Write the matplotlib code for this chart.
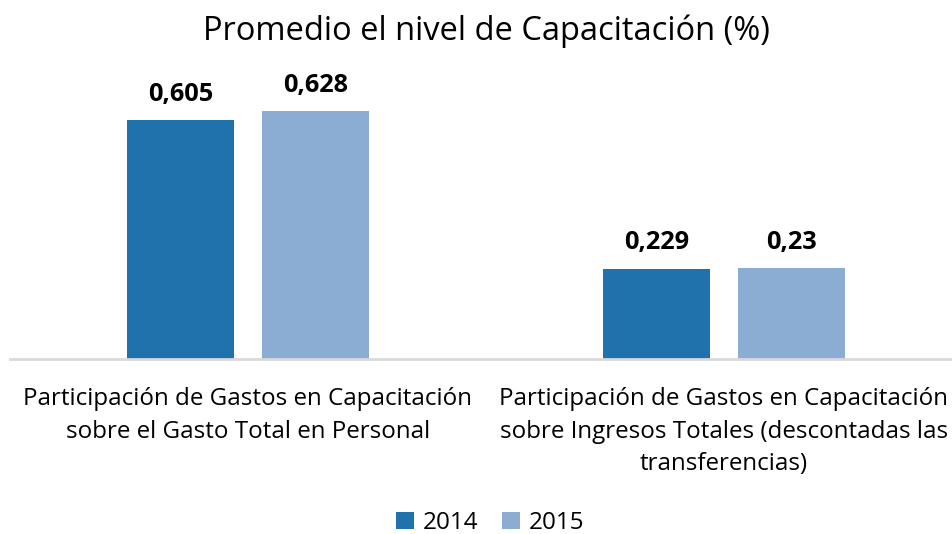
import numpy as np
import matplotlib.pyplot as plt

plt.rcParams['font.family'] = ['Open Sans', 'DejaVu Sans']

categories = ["Participación de Gastos en Capacitación\nsobre el Gasto Total en Personal",
              "Participación de Gastos en Capacitación\nsobre Ingresos Totales (descontadas las\ntransferencias)"]
years = ["2014", "2015"]
values_2014 = [0.605, 0.229]
values_2015 = [0.628, 0.23]
colors = ["#1F72AB", "#8BADD4"]

W, H = 953, 534
fig = plt.figure(figsize=(W / 100, H / 100), dpi=100)
ax = fig.add_axes([10 / W, 1 - 359 / H, 952 / W, 276.5 / H])

x = np.arange(len(categories))
bw = 0.223
off = 0.1418
for vals, dx, c, lab in [(values_2014, -off, colors[0], years[0]),
                         (values_2015, off, colors[1], years[1])]:
    bars = ax.bar(x + dx, vals, width=bw, color=c, label=lab, zorder=2)
    for b, v in zip(bars, vals):
        txt = f"{v:g}".replace(".", ",")
        ax.annotate(txt, (b.get_x() + b.get_width() / 2, v), xytext=(0, 9.5),
                    textcoords="offset points", ha="center", va="bottom",
                    fontsize=18.3, fontweight="bold")

ax.set_xlim(-0.5, 1.5)
ax.set_ylim(0, 0.7)
for s in ["top", "right", "left"]:
    ax.spines[s].set_visible(False)
ax.spines["bottom"].set_color("#D9D9D9")
ax.spines["bottom"].set_linewidth(2)
ax.set_yticks([])
ax.set_xticks(x)
ax.set_xticklabels(categories, fontsize=17.4, linespacing=1.49)
ax.tick_params(axis="x", length=0, pad=20)

fig.suptitle("Promedio el nivel de Capacitación (%)", fontsize=23.5, x=486.5 / W, y=0.973, va="top")
fig.legend(loc="center", bbox_to_anchor=(490 / W, 1 - 523 / H), ncol=2, frameon=False,
           fontsize=17.5, handlelength=0.75, handleheight=0.75, handletextpad=0.35,
           columnspacing=1.0)

fig.savefig("out.png", dpi=100)
